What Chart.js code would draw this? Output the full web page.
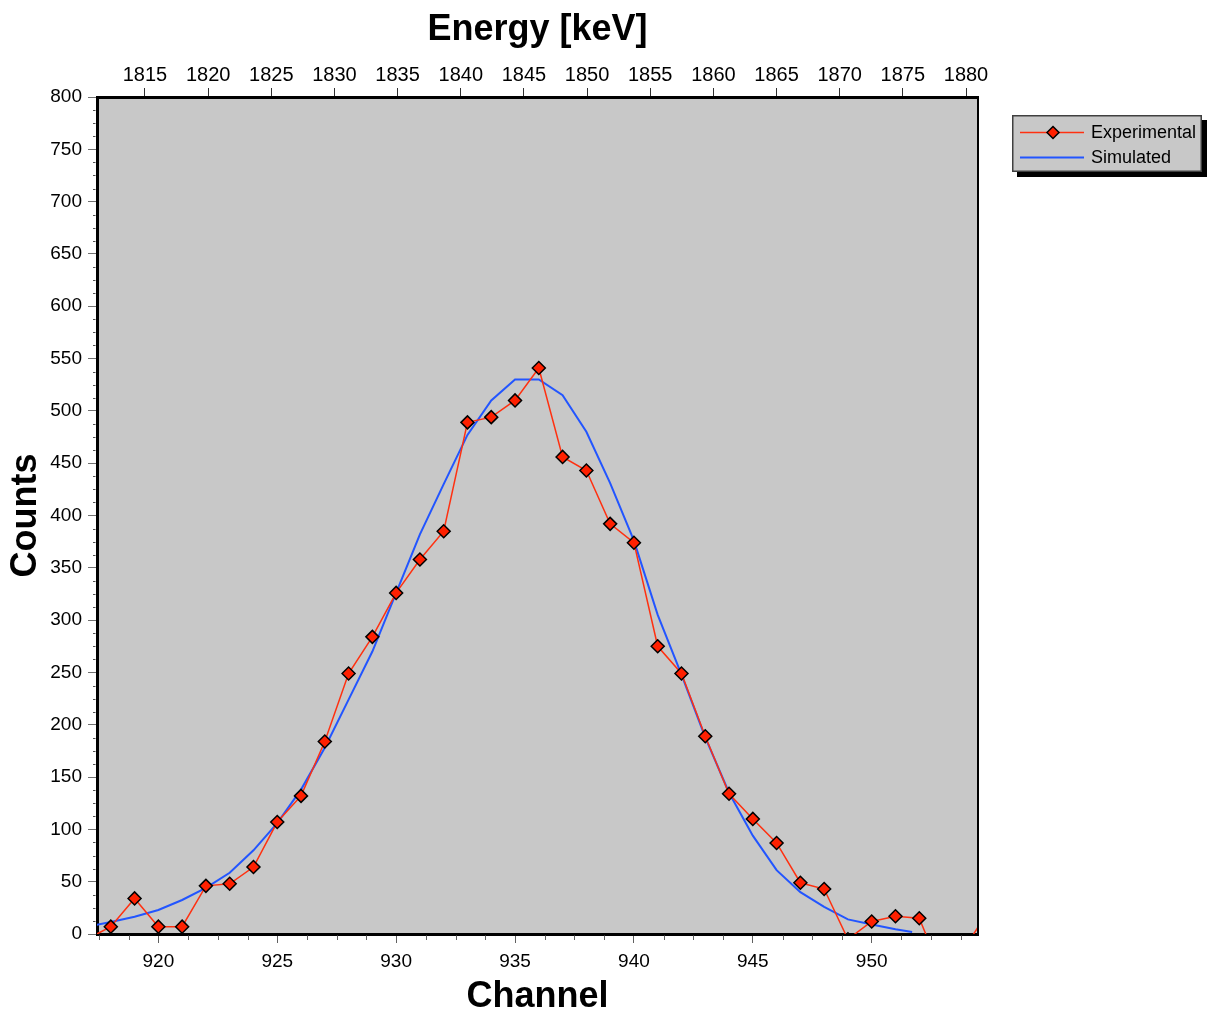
<!DOCTYPE html>
<html><head><meta charset="utf-8">
<script src="https://cdn.jsdelivr.net/npm/chart.js@4.4.1/dist/chart.umd.min.js"></script>
<style>html,body{margin:0;padding:0;background:#fff;}canvas{display:block;}</style>
</head><body>
<canvas id="c" width="1208" height="1011"></canvas>
<script>
const FONT = "'Liberation Sans', Arial, sans-serif";

// ---- data ----
const channels = [917,918,919,920,921,922,923,924,925,926,927,928,929,930,931,932,933,934,935,936,937,938,939,940,941,942,943,944,945,946,947,948,949,950,951,952,953,954,955];
const experimental = [-5,7,34,7,7,46,48,64,107,132,184,249,284,326,358,385,489,494,510,541,456,443,392,374,275,249,189,134,110,87,49,43,-5,12,17,15,-40,-10,25];
const simChannels = [917,918,919,920,921,922,923,924,925,926,927,928,929,930,931,932,933,934,935,936,937,938,939,940,941,942,943,944,945,946,947,948,949,950,951,951.7];
const simulated = [7,11.5,16.5,23,32.5,44,58.5,80,106,138,178,224,270,326,382,430,477,510,530,530,515,480,431,376,305,248,188,135,94,61,40,26,14,9,4.5,2];
const channelTicks = [920,925,930,935,940,945,950];
const energyTicks = [1815,1820,1825,1830,1835,1840,1845,1850,1855,1860,1865,1870,1875,1880];
const countTicks = [0,50,100,150,200,250,300,350,400,450,500,550,600,650,700,750,800];
const seriesNames = ['Experimental','Simulated'];

const RED = '#ff3010', MARK = '#ff2000', BLUE = '#2255ff';

function diamond(ctx, x, y, r){
  ctx.beginPath();
  ctx.moveTo(x, y - r); ctx.lineTo(x + r, y); ctx.lineTo(x, y + r); ctx.lineTo(x - r, y); ctx.closePath();
  ctx.fill(); ctx.stroke();
}

const framePlugin = {
  id: 'frame',
  beforeDraw(chart){
    const {ctx, chartArea: a} = chart;
    ctx.save();
    ctx.fillStyle = '#c8c8c8';
    ctx.fillRect(a.left, a.top, a.right - a.left, a.bottom - a.top);
    ctx.restore();
  },
  afterDraw(chart){
    const {ctx, chartArea: a} = chart;
    ctx.save();
    // right frame
    ctx.strokeStyle = '#000'; ctx.lineWidth = 2;
    ctx.beginPath(); ctx.moveTo(a.right, a.top - 1); ctx.lineTo(a.right, a.bottom + 1); ctx.stroke();
    // minor ticks on channel axis
    const xs = chart.scales.x;
    ctx.strokeStyle = '#606060'; ctx.lineWidth = 1;
    for (let v = 917.5; v <= xs.max; v += 1.25) {
      if (Math.abs(v % 5) < 1e-6) continue;
      const px = Math.round(xs.getPixelForValue(v)) + 0.5;
      ctx.beginPath(); ctx.moveTo(px, a.bottom + 1.5); ctx.lineTo(px, a.bottom + 6); ctx.stroke();
    }
    // minor ticks on count axis
    const ys = chart.scales.y;
    ctx.strokeStyle = '#505050';
    for (let v = 12.5; v < 800; v += 12.5) {
      if (Math.abs(v % 50) < 1e-6) continue;
      const py = Math.round(ys.getPixelForValue(v)) + 0.5;
      ctx.beginPath(); ctx.moveTo(a.left - 4, py); ctx.lineTo(a.left - 1.5, py); ctx.stroke();
    }
    // legend
    const lx = 1012, ly = 115, lw = 190, lh = 57;
    ctx.fillStyle = '#000'; ctx.fillRect(lx + 5, ly + 5, lw, lh);
    ctx.fillStyle = '#c8c8c8'; ctx.fillRect(lx, ly, lw, lh);
    ctx.strokeStyle = '#404040'; ctx.lineWidth = 1.5; ctx.strokeRect(lx + 0.75, ly + 0.75, lw - 1.5, lh - 1.5);
    const rows = [132.5, 157.5];
    chart.data.datasets.forEach((ds, i) => {
      const y = rows[i];
      ctx.strokeStyle = ds.borderColor; ctx.lineWidth = ds.borderWidth;
      ctx.beginPath(); ctx.moveTo(1020, y); ctx.lineTo(1084, y); ctx.stroke();
      if (ds.pointRadius > 0) {
        ctx.fillStyle = ds.pointBackgroundColor; ctx.strokeStyle = ds.pointBorderColor; ctx.lineWidth = 1.5;
        diamond(ctx, 1053, y, 6);
      }
      ctx.fillStyle = '#000'; ctx.font = '18px ' + FONT; ctx.textBaseline = 'middle'; ctx.textAlign = 'left';
      ctx.fillText(ds.label, 1091, y + 0.5);
    });
    ctx.restore();
  }
};

const tickFont = {family: FONT, size: 19};
const titleFont = {family: FONT, size: 36, weight: 'bold', lineHeight: 1};

new Chart(document.getElementById('c'), {
  type: 'line',
  data: {
    datasets: [
      {
        label: seriesNames[0],
        data: channels.map((c, i) => ({x: c, y: experimental[i]})),
        borderColor: RED, borderWidth: 1.5,
        pointStyle: 'rectRot', pointRadius: 6.5, pointHoverRadius: 6.5,
        pointBackgroundColor: MARK, pointBorderColor: '#000', pointBorderWidth: 1.5,
        tension: 0, fill: false
      },
      {
        label: seriesNames[1],
        data: simChannels.map((c, i) => ({x: c, y: simulated[i]})),
        borderColor: BLUE, borderWidth: 2,
        pointRadius: 0, pointHoverRadius: 0,
        pointBackgroundColor: BLUE, pointBorderColor: BLUE,
        tension: 0, fill: false
      }
    ]
  },
  options: {
    responsive: false,
    animation: false,
    devicePixelRatio: 1,
    layout: {padding: {left: 0, right: 230, top: 0, bottom: 0}},
    plugins: {legend: {display: false}, tooltip: {enabled: false}},
    events: [],
    scales: {
      x: {
        type: 'linear', position: 'bottom', min: 917.42, max: 954.47,
        afterFit: s => { s.height = 77; },
        afterBuildTicks: s => { s.ticks = channelTicks.map(v => ({value: v})); },
        ticks: {font: tickFont, color: '#000', padding: 7, maxRotation: 0, autoSkip: false, includeBounds: false, callback: v => String(v)},
        grid: {drawOnChartArea: false, drawTicks: true, tickLength: 9, tickColor: '#606060', tickWidth: 1},
        border: {display: true, color: '#000', width: 3},
        title: {display: true, text: 'Channel', font: titleFont, color: '#000', padding: {top: 0, bottom: -4}}
      },
      x2: {
        type: 'linear', position: 'top', min: 1811.2, max: 1880.95,
        afterFit: s => { s.height = 97; },
        afterBuildTicks: s => { s.ticks = energyTicks.map(v => ({value: v})); },
        ticks: {font: {family: FONT, size: 20}, color: '#000', padding: 1, maxRotation: 0, autoSkip: false, includeBounds: false, callback: v => String(v)},
        grid: {drawOnChartArea: false, drawTicks: true, tickLength: 9, tickColor: '#303030', tickWidth: 1},
        border: {display: true, color: '#000', width: 3},
        title: {display: true, text: 'Energy [keV]', font: titleFont, color: '#000', padding: {top: 12, bottom: 0}}
      },
      y: {
        type: 'linear', position: 'left', min: 0, max: 800,
        afterFit: s => { s.width = 97; },
        afterBuildTicks: s => { s.ticks = countTicks.map(v => ({value: v})); },
        ticks: {font: tickFont, color: '#000', padding: 6, autoSkip: false, includeBounds: false, callback: v => String(v)},
        grid: {drawOnChartArea: false, drawTicks: true, tickLength: 9, tickColor: '#707070', tickWidth: 1},
        border: {display: true, color: '#000', width: 3},
        title: {display: true, text: 'Counts', font: titleFont, color: '#000', padding: {top: 8, bottom: 0}}
      }
    }
  },
  plugins: [framePlugin]
});
</script>
</body></html>
